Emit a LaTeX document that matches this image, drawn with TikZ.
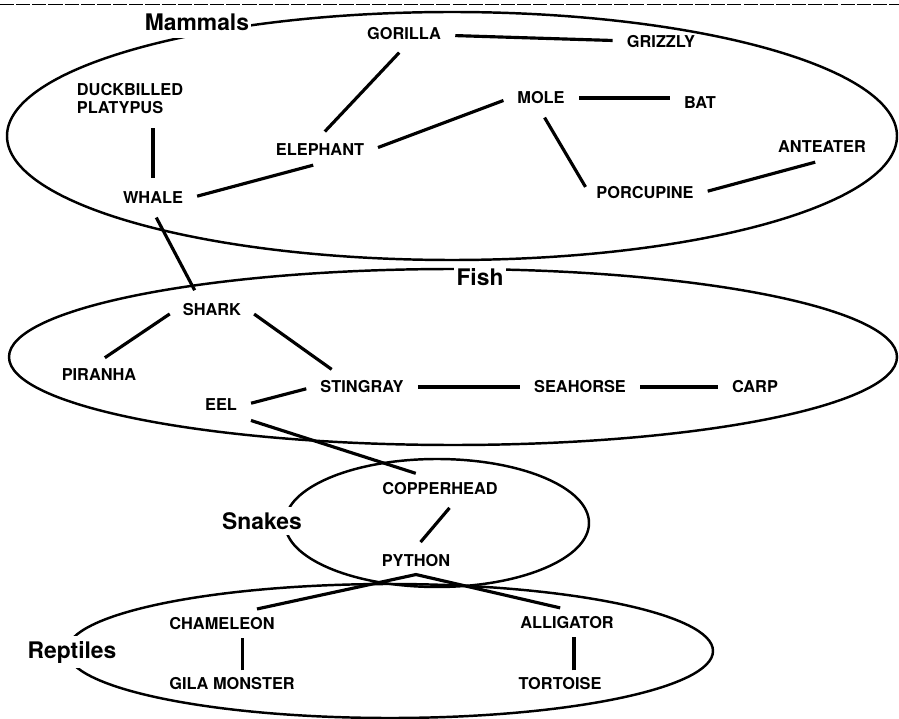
\documentclass[tikz,border=0pt]{standalone}
\usepackage{fontspec}
\setmainfont{TeX Gyre Heros}
\newcommand{\itm}{\fontsize{9.3}{10.4}\selectfont\bfseries}
\newcommand{\grp}{\fontsize{13}{15}\selectfont\bfseries}
\begin{document}
\begin{tikzpicture}[x=0.02cm,y=-0.02cm,
   item/.style={font=\itm,inner sep=4pt},
   group/.style={font=\grp,fill=white,inner sep=3pt},
   link/.style={line width=1.8pt,shorten <=4pt,shorten >=4pt},
   set/.style={line width=1.4pt}]
   \useasboundingbox (0,0) rectangle (899,719);
   \draw[set] (452,136) ellipse [x radius=445,y radius=124];
   \draw[set] (453,357) ellipse [x radius=444,y radius=88];
   \draw[set] (437,523) ellipse [x radius=152,y radius=64];
   \draw[set] (390,651) ellipse [x radius=323,y radius=67];
   \node[group,inner xsep=1pt,inner ysep=4.5pt] (mammals) at (197,22) {Mammals};
   \node[group,inner sep=1.5pt] (fish) at (480,277) {Fish};
   \node[group] (snakes) at (262,521) {Snakes};
   \node[group] (reptiles) at (72,652) {Reptiles};
   \draw[line width=1.1pt,dash pattern=on 8pt off 1.2pt] (0,4.5) -- (899,4.5);
   \node[item] (gorilla) at (404,34) {GORILLA};
   \node[item] (grizzly) at (661,42) {GRIZZLY};
   \node[item,align=left] (platypus) at (130,98.5) {DUCKBILLED\\PLATYPUS};
   \node[item] (elephant) at (320,150) {ELEPHANT};
   \node[item] (whale) at (153,198) {WHALE};
   \node[item] (mole) at (541,98) {MOLE};
   \node[item] (bat) at (700,103) {BAT};
   \node[item] (anteater) at (822,147) {ANTEATER};
   \node[item] (porcupine) at (645,193) {PORCUPINE};
   \node[item] (shark) at (212,310) {SHARK};
   \node[item] (piranha) at (99,375) {PIRANHA};
   \node[item] (stingray) at (362,387) {STINGRAY};
   \node[item] (seahorse) at (580,387) {SEAHORSE};
   \node[item] (carp) at (755,387) {CARP};
   \node[item] (eel) at (221,405) {EEL};
   \node[item] (copperhead) at (440,489) {COPPERHEAD};
   \node[item] (python) at (416,561) {PYTHON};
   \node[item] (chameleon) at (222,624) {CHAMELEON};
   \node[item] (alligator) at (567,623) {ALLIGATOR};
   \node[item] (gila) at (232,684) {GILA MONSTER};
   \node[item] (tortoise) at (560,684) {TORTOISE};
   \draw[link] (gorilla) -- (grizzly);
   \draw[link] (gorilla.south) -- (elephant.north);
   \draw[link] (platypus.south -| whale.north) -- (whale.north);
   \draw[link] (whale.east) -- (elephant.south);
   \draw[link] (elephant.east) -- (mole.west);
   \draw[link] (mole.east) -- (mole.east -| bat.west);
   \draw[link] (mole.south) -- (porcupine.west);
   \draw[link] (porcupine.east) -- (anteater.south);
   \draw[link] (whale.south) -- ([xshift=-8pt]shark.north);
   \draw[link] (shark.west) -- (piranha.north);
   \draw[link] (shark.east) -- ([xshift=-14pt]stingray.north);
   \draw[link] (eel.east) -- (stingray.west);
   \draw[link] (stingray) -- (seahorse);
   \draw[link] (seahorse) -- (carp);
   \draw[link] (eel.south east) -- ([xshift=-10pt]copperhead.north);
   \draw[link] ([xshift=8pt]copperhead.south) -- (python.north);
   \draw[link] ([xshift=16pt]chameleon.north) -- (python.south) -- (alligator.north);
   \draw[link,shorten <=0pt,shorten >=0pt] ([xshift=6pt]gila.north) -- ([xshift=6pt]gila.north |- chameleon.south);
   \draw[link,shorten <=0pt,shorten >=0pt] ([xshift=8pt]tortoise.north) -- ([xshift=8pt]tortoise.north |- alligator.south);
\end{tikzpicture}
\end{document}
